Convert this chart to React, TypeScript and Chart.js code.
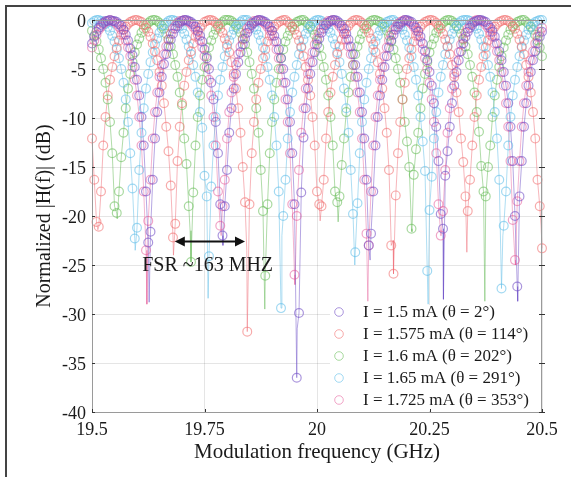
import React, { useEffect, useRef } from "react";
import { Chart, registerables } from "chart.js";

Chart.register(...registerables);

// Modulation frequency grid (GHz)
const FREQ_GHZ = [
  19.5, 19.505, 19.51, 19.515, 19.52, 19.525, 19.53, 19.535, 19.54, 19.545,
  19.55, 19.555, 19.56, 19.565, 19.57, 19.575, 19.58, 19.585, 19.59, 19.595,
  19.6, 19.605, 19.61, 19.615, 19.62, 19.625, 19.63, 19.635, 19.64, 19.645,
  19.65, 19.655, 19.66, 19.665, 19.67, 19.675, 19.68, 19.685, 19.69, 19.695,
  19.7, 19.705, 19.71, 19.715, 19.72, 19.725, 19.73, 19.735, 19.74, 19.745,
  19.75, 19.755, 19.76, 19.765, 19.77, 19.775, 19.78, 19.785, 19.79, 19.795,
  19.8, 19.805, 19.81, 19.815, 19.82, 19.825, 19.83, 19.835, 19.84, 19.845,
  19.85, 19.855, 19.86, 19.865, 19.87, 19.875, 19.88, 19.885, 19.89, 19.895,
  19.9, 19.905, 19.91, 19.915, 19.92, 19.925, 19.93, 19.935, 19.94, 19.945,
  19.95, 19.955, 19.96, 19.965, 19.97, 19.975, 19.98, 19.985, 19.99, 19.995,
  20, 20.005, 20.01, 20.015, 20.02, 20.025, 20.03, 20.035, 20.04, 20.045,
  20.05, 20.055, 20.06, 20.065, 20.07, 20.075, 20.08, 20.085, 20.09, 20.095,
  20.1, 20.105, 20.11, 20.115, 20.12, 20.125, 20.13, 20.135, 20.14, 20.145,
  20.15, 20.155, 20.16, 20.165, 20.17, 20.175, 20.18, 20.185, 20.19, 20.195,
  20.2, 20.205, 20.21, 20.215, 20.22, 20.225, 20.23, 20.235, 20.24, 20.245,
  20.25, 20.255, 20.26, 20.265, 20.27, 20.275, 20.28, 20.285, 20.29, 20.295,
  20.3, 20.305, 20.31, 20.315, 20.32, 20.325, 20.33, 20.335, 20.34, 20.345,
  20.35, 20.355, 20.36, 20.365, 20.37, 20.375, 20.38, 20.385, 20.39, 20.395,
  20.4, 20.405, 20.41, 20.415, 20.42, 20.425, 20.43, 20.435, 20.44, 20.445,
  20.45, 20.455, 20.46, 20.465, 20.47, 20.475, 20.48, 20.485, 20.49, 20.495,
  20.5,
];

// Normalized |H(f)| (dB), measured markers
const H_1P5_MA = [
  -2.4, -1.7, -1.2, -0.8, -0.5, -0.3, -0.1, -0.1, 0, -0.1,
  -0.1, -0.2, -0.4, -0.6, -1.0, -1.5, -2.1, -2.9, -3.6, -4.8,
  -6.1, -7.7, -9.9, -12.8, -17.5, -22.7, -21.6, -16.3, -12.1, -9.4,
  -7.4, -5.8, -4.5, -3.5, -2.7, -2.0, -1.4, -0.9, -0.6, -0.3,
  -0.1, 0, 0, -0.1, -0.2, -0.4, -0.7, -1.1, -1.6, -2.2,
  -3.0, -3.9, -5.0, -6.4, -8.1, -10.4, -13.6, -18.8, -22.0, -19.0,
  -15.3, -11.5, -9.0, -7.0, -5.5, -4.3, -3.3, -2.5, -1.9, -1.3,
  -0.9, -0.5, -0.3, -0.1, 0, 0, -0.1, -0.2, -0.4, -0.7,
  -1.1, -1.6, -2.2, -3.0, -3.9, -5.0, -6.4, -8.1, -10.4, -13.6,
  -18.8, -36.5, -29.9, -17.6, -12.0, -9.0, -7.0, -5.5, -4.3, -3.3,
  -2.5, -1.9, -1.3, -0.9, -0.5, -0.3, -0.1, 0, 0, -0.1,
  -0.3, -0.6, -0.9, -1.4, -2.0, -2.7, -3.5, -4.6, -5.8, -7.4,
  -9.4, -12.1, -16.3, -23.0, -21.8, -17.5, -12.8, -9.9, -7.7, -6.1,
  -4.8, -3.7, -2.8, -2.1, -1.5, -1.0, -0.7, -0.4, -0.2, 0,
  0, -0.1, -0.2, -0.5, -0.8, -1.2, -1.7, -2.4, -3.2, -4.1,
  -5.3, -6.7, -8.5, -10.9, -14.4, -19.8, -21.3, -15.9, -13.4, -10.9,
  -8.5, -6.7, -5.3, -4.1, -3.2, -2.4, -1.7, -1.2, -0.8, -0.5,
  -0.2, -0.1, 0, 0, -0.1, -0.2, -0.5, -0.8, -1.2, -1.7,
  -2.4, -3.2, -4.1, -5.3, -6.7, -8.5, -10.9, -14.4, -20.0, -27.2,
  -18.0, -14.4, -10.9, -8.5, -6.7, -5.3, -4.1, -3.2, -2.4, -1.7,
  -1.2,
];

const H_1P575_MA = [
  -12.1, -16.3, -20.6, -21.1, -17.5, -12.8, -9.9, -7.7, -6.1, -4.8,
  -3.7, -2.8, -2.1, -1.5, -1.0, -0.7, -0.4, -0.2, -0.1, 0,
  0, -0.1, -0.2, -0.5, -0.8, -1.2, -1.7, -2.4, -3.2, -4.1,
  -5.3, -6.7, -8.5, -10.9, -13.4, -16.9, -22.2, -20.8, -14.4, -10.9,
  -8.5, -6.7, -5.3, -4.1, -3.2, -2.4, -1.7, -1.2, -0.8, -0.5,
  -0.2, -0.1, 0, 0, -0.1, -0.3, -0.5, -0.9, -1.3, -1.9,
  -2.5, -3.3, -4.3, -5.5, -7.0, -9.0, -11.5, -15.0, -18.6, -31.8,
  -18.8, -13.6, -10.4, -8.1, -6.4, -5.0, -3.9, -3.0, -2.2, -1.6,
  -1.1, -0.7, -0.4, -0.2, -0.1, 0, 0, -0.2, -0.4, -0.7,
  -1.0, -1.5, -2.1, -2.8, -3.7, -4.8, -6.1, -7.7, -9.9, -12.8,
  -17.5, -18.8, -19.0, -16.3, -12.1, -9.4, -7.4, -5.8, -4.6, -3.5,
  -2.7, -2.0, -1.4, -0.9, -0.6, -0.3, -0.1, 0, 0, -0.1,
  -0.3, -0.5, -0.9, -1.3, -1.9, -2.5, -3.3, -4.3, -5.5, -7.0,
  -9.0, -11.5, -15.3, -23.0, -25.9, -17.9, -13.6, -10.4, -8.1, -6.4,
  -5.0, -3.9, -3.0, -2.2, -1.6, -1.1, -0.7, -0.4, -0.2, -0.1,
  0, 0, -0.1, -0.3, -0.6, -0.9, -1.4, -2.0, -2.7, -3.5,
  -4.6, -5.8, -7.4, -9.4, -12.1, -14.5, -18.0, -19.5, -16.3, -12.8,
  -9.9, -7.7, -6.1, -4.8, -3.7, -2.8, -2.1, -1.5, -1.0, -0.7,
  -0.4, -0.2, -0.1, 0, 0, -0.1, -0.3, -0.6, -0.9, -1.4,
  -2.0, -2.7, -3.5, -4.6, -5.8, -7.4, -9.4, -12.1, -16.3, -19.0,
  -23.3,
];

const H_1P6_MA = [
  -1.1, -1.6, -2.2, -3.0, -3.9, -5.0, -6.4, -8.1, -10.4, -13.6,
  -19.0, -19.7, -17.5, -14.0, -11.5, -9.0, -7.0, -5.5, -4.3, -3.3,
  -2.5, -1.9, -1.3, -0.9, -0.5, -0.3, -0.1, 0, 0, -0.1,
  -0.3, -0.6, -0.9, -1.4, -2.0, -2.7, -3.5, -4.6, -5.8, -7.4,
  -8.7, -12.1, -14.7, -19.0, -24.7, -17.6, -12.8, -9.9, -7.7, -6.1,
  -4.8, -3.7, -2.8, -2.1, -1.5, -1.0, -0.7, -0.4, -0.2, 0,
  0, 0, -0.1, -0.3, -0.5, -0.9, -1.3, -1.9, -2.5, -3.3,
  -4.3, -5.5, -7.0, -9.0, -11.5, -15.3, -19.5, -26.1, -18.8, -13.6,
  -10.4, -8.1, -6.4, -5.0, -3.9, -3.0, -2.2, -1.6, -1.1, -0.7,
  -0.4, -0.2, -0.1, 0, 0, -0.2, -0.4, -0.7, -1.0, -1.5,
  -2.1, -2.8, -3.7, -4.8, -6.1, -7.7, -9.9, -12.8, -17.5, -18.6,
  -18.0, -14.8, -12.1, -9.4, -7.4, -5.8, -4.6, -3.5, -2.7, -2.0,
  -1.4, -0.9, -0.6, -0.3, -0.1, 0, 0, -0.1, -0.2, -0.4,
  -0.7, -1.1, -1.6, -2.2, -3.0, -3.9, -5.0, -6.4, -8.1, -10.4,
  -12.4, -15.0, -21.3, -15.8, -13.2, -11.5, -9.0, -7.0, -5.5, -4.3,
  -3.3, -2.5, -1.9, -1.3, -0.9, -0.5, -0.3, -0.1, 0, 0,
  -0.1, -0.3, -0.6, -0.9, -1.4, -2.0, -2.7, -3.5, -4.6, -5.8,
  -7.4, -9.4, -11.4, -14.9, -17.5, -18.0, -15.0, -12.8, -9.9, -7.7,
  -6.1, -4.8, -3.7, -2.8, -2.1, -1.5, -1.0, -0.7, -0.4, -0.2,
  -0.1, 0, 0, -0.2, -0.4, -0.7, -1.0, -1.5, -2.1, -2.8,
  -3.7,
];

const H_1P65_MA = [
  -0.3, -0.1, 0, 0, -0.1, -0.2, -0.4, -0.7, -1.1, -1.6,
  -2.2, -3.0, -3.9, -5.0, -6.4, -8.1, -10.4, -13.6, -17.2, -22.3,
  -21.2, -15.3, -11.5, -9.0, -7.0, -5.5, -4.3, -3.3, -2.5, -1.9,
  -1.3, -0.9, -0.5, -0.3, -0.1, 0, 0, -0.1, -0.3, -0.6,
  -0.9, -1.4, -2.0, -2.7, -3.5, -4.6, -5.8, -7.4, -9.4, -11.0,
  -15.9, -18.0, -24.1, -17.0, -12.8, -9.9, -7.7, -6.1, -4.8, -3.7,
  -2.8, -2.1, -1.5, -1.0, -0.7, -0.4, -0.2, 0, 0, 0,
  -0.2, -0.4, -0.7, -1.0, -1.5, -2.1, -2.8, -3.7, -4.8, -6.1,
  -7.7, -9.9, -12.8, -17.5, -29.4, -20.0, -16.3, -12.1, -9.4, -7.4,
  -5.8, -4.6, -3.5, -2.7, -2.0, -1.4, -0.9, -0.6, -0.3, -0.1,
  0, 0, -0.1, -0.3, -0.5, -0.9, -1.3, -1.9, -2.5, -3.3,
  -4.3, -5.5, -7.0, -9.0, -11.5, -15.3, -19.8, -23.7, -18.7, -13.6,
  -10.4, -8.1, -6.4, -5.0, -3.9, -3.0, -2.2, -1.6, -1.1, -0.7,
  -0.4, -0.2, -0.1, 0, 0, -0.2, -0.4, -0.7, -1.0, -1.5,
  -2.1, -2.8, -3.7, -4.8, -6.1, -7.7, -9.9, -12.4, -15.4, -25.6,
  -19.4, -16.0, -12.1, -9.4, -7.4, -5.8, -4.6, -3.5, -2.7, -2.0,
  -1.4, -0.9, -0.6, -0.3, -0.1, 0, 0, 0, -0.1, -0.3,
  -0.6, -0.9, -1.4, -2.0, -2.7, -3.5, -4.6, -5.8, -7.4, -9.4,
  -12.1, -16.3, -27.4, -21.0, -17.5, -12.8, -9.9, -7.7, -6.1, -4.8,
  -3.7, -2.8, -2.1, -1.5, -1.0, -0.7, -0.4, -0.2, -0.1, 0,
  0,
];

const H_1P725_MA = [
  -2.8, -2.1, -1.5, -1.0, -0.7, -0.4, -0.2, -0.1, 0, -0.1,
  -0.2, -0.4, -0.7, -1.0, -1.5, -2.1, -2.8, -3.7, -4.8, -6.1,
  -7.7, -9.9, -12.8, -17.5, -23.5, -20.5, -16.3, -12.1, -9.4, -7.4,
  -5.8, -4.6, -3.5, -2.7, -2.0, -1.4, -0.9, -0.6, -0.3, -0.1,
  -0.1, 0, -0.1, -0.2, -0.4, -0.7, -1.0, -1.5, -2.1, -2.8,
  -3.7, -4.8, -6.1, -7.7, -9.9, -12.8, -17.5, -21.0, -19.0, -16.3,
  -12.1, -9.4, -7.4, -5.8, -4.6, -3.5, -2.7, -2.0, -1.4, -0.9,
  -0.6, -0.3, -0.1, -0.1, 0, -0.1, -0.2, -0.4, -0.7, -1.1,
  -1.6, -2.2, -3.0, -3.9, -5.0, -6.4, -8.1, -10.4, -13.6, -18.8,
  -26.0, -20.0, -15.3, -11.5, -9.0, -7.0, -5.5, -4.3, -3.3, -2.5,
  -1.9, -1.3, -0.9, -0.5, -0.3, -0.1, -0.1, 0, -0.1, -0.3,
  -0.6, -0.9, -1.4, -2.0, -2.7, -3.5, -4.6, -5.8, -7.4, -9.4,
  -12.1, -16.3, -21.8, -23.0, -17.5, -12.8, -9.9, -7.7, -6.1, -4.8,
  -3.7, -2.8, -2.1, -1.5, -1.0, -0.7, -0.4, -0.2, -0.1, 0,
  -0.1, -0.2, -0.4, -0.7, -1.1, -1.6, -2.2, -3.0, -3.9, -5.0,
  -6.4, -8.1, -10.4, -13.6, -18.8, -22.0, -19.5, -15.3, -11.5, -9.0,
  -7.0, -5.5, -4.3, -3.3, -2.5, -1.9, -1.3, -0.9, -0.5, -0.3,
  -0.1, 0, 0, -0.1, -0.2, -0.5, -0.8, -1.2, -1.7, -2.4,
  -3.2, -4.1, -5.3, -6.7, -8.5, -10.9, -14.4, -20.4, -24.5, -18.5,
  -14.4, -10.9, -8.5, -6.7, -5.3, -4.1, -3.2, -2.4, -1.7, -1.2,
  -0.8,
];

// Deepest points of the thin traces at each notch: [GHz, dB]
const NOTCH_1P5_MA = [[19.627, -28.8], [19.791, -23.0], [19.956, -31.5], [20.118, -24.5], [20.281, -28.5], [20.446, -28.7]];
const NOTCH_1P575_MA = [[19.513, -21.4], [19.681, -24.0], [19.844, -23.5], [20.007, -20.5], [20.169, -22.5], [20.333, -23.7], [20.498, -21.0]];
const NOTCH_1P6_MA = [[19.556, -20.3], [19.718, -21.5], [19.884, -29.5], [20.047, -20.6], [20.211, -21.6], [20.373, -28.7]];
const NOTCH_1P65_MA = [[19.596, -23.5], [19.758, -28.4], [19.922, -22.0], [20.084, -25.0], [20.247, -29.0], [20.413, -22.0]];
const NOTCH_1P725_MA = [[19.622, -29.0], [19.787, -22.0], [19.951, -27.0], [20.113, -28.7], [20.276, -22.0], [20.441, -25.0]];

const LEGEND_LABELS = [
  "I = 1.5 mA (\u03b8 = 2\u00b0)",
  "I = 1.575 mA (\u03b8 = 114\u00b0)",
  "I = 1.6 mA (\u03b8 = 202\u00b0)",
  "I = 1.65 mA (\u03b8 = 291\u00b0)",
  "I = 1.725 mA (\u03b8 = 353\u00b0)",
];

const X_TICKS = [19.5, 19.75, 20, 20.25, 20.5];
const Y_TICKS = [-40, -35, -30, -25, -20, -15, -10, -5, 0];

const FSR_FROM_GHZ = 19.684;
const FSR_TO_GHZ = 19.84;
const FSR_LEVEL_DB = -22.6;
const FSR_TEXT = "FSR ~163 MHZ";
const FSR_TEXT_GHZ = 19.757;
const FSR_TEXT_DB = -25.1;

// Styles
const SERIF = '"Liberation Serif", "Times New Roman", serif';
const MARKER_COLORS = [
  "rgba(120, 85, 200, 0.62)",
  "rgba(242, 110, 110, 0.58)",
  "rgba(105, 190, 90, 0.58)",
  "rgba(95, 190, 232, 0.58)",
  "rgba(228, 85, 150, 0.52)",
];
const LINE_COLORS = [
  "rgba(110, 80, 200, 0.5)",
  "rgba(240, 110, 120, 0.5)",
  "rgba(100, 185, 85, 0.5)",
  "rgba(95, 190, 232, 0.5)",
  "rgba(228, 90, 150, 0.45)",
];

const SERIES_VALUES = [H_1P5_MA, H_1P575_MA, H_1P6_MA, H_1P65_MA, H_1P725_MA];
const SERIES_NOTCHES = [NOTCH_1P5_MA, NOTCH_1P575_MA, NOTCH_1P6_MA, NOTCH_1P65_MA, NOTCH_1P725_MA];
const DRAW_ORDER = [0, 2, 4, 3, 1];

const decorPlugin = {
  id: "decor",
  afterDatasetsDraw(chart: any) {
    const { ctx, scales } = chart;
    const xs = scales.x;
    const ys = scales.y;
    const x1 = xs.getPixelForValue(FSR_FROM_GHZ);
    const x2 = xs.getPixelForValue(FSR_TO_GHZ);
    const y = ys.getPixelForValue(FSR_LEVEL_DB);
    ctx.save();
    ctx.strokeStyle = "#111";
    ctx.fillStyle = "#111";
    ctx.lineWidth = 2;
    ctx.beginPath();
    ctx.moveTo(x1 + 6, y);
    ctx.lineTo(x2 - 6, y);
    ctx.stroke();
    ctx.beginPath();
    ctx.moveTo(x1, y);
    ctx.lineTo(x1 + 10, y - 5);
    ctx.lineTo(x1 + 10, y + 5);
    ctx.closePath();
    ctx.fill();
    ctx.beginPath();
    ctx.moveTo(x2, y);
    ctx.lineTo(x2 - 10, y - 5);
    ctx.lineTo(x2 - 10, y + 5);
    ctx.closePath();
    ctx.fill();
    ctx.font = `20px ${SERIF}`;
    ctx.textAlign = "center";
    ctx.textBaseline = "middle";
    ctx.fillStyle = "#1a1a1a";
    ctx.fillText(FSR_TEXT, xs.getPixelForValue(FSR_TEXT_GHZ), ys.getPixelForValue(FSR_TEXT_DB));
    ctx.restore();
  },
  afterDraw(chart: any) {
    const { ctx, chartArea: a, scales } = chart;
    ctx.save();
    // legend box
    const lx = a.right - 212;
    const ly = a.bottom - 107;
    ctx.fillStyle = "#ffffff";
    ctx.fillRect(lx, ly, a.right - lx - 1, a.bottom - ly - 1);
    ctx.font = `17px ${SERIF}`;
    ctx.textAlign = "left";
    ctx.textBaseline = "middle";
    LEGEND_LABELS.forEach((t, i) => {
      const cy = ly + 7 + i * 22;
      ctx.beginPath();
      ctx.arc(lx + 9, cy, 4.3, 0, Math.PI * 2);
      ctx.strokeStyle = MARKER_COLORS[i];
      ctx.lineWidth = 1;
      ctx.stroke();
      ctx.fillStyle = "#1a1a1a";
      ctx.fillText(t, lx + 33, cy + 1);
    });
    // plot box
    ctx.strokeStyle = "#9a9a9a";
    ctx.lineWidth = 1;
    ctx.strokeRect(a.left + 0.5, a.top + 0.5, a.right - a.left - 1, a.bottom - a.top);
    // tick marks
    ctx.strokeStyle = "#333";
    ctx.beginPath();
    scales.x.ticks.forEach((t: any) => {
      const px = Math.round(scales.x.getPixelForValue(t.value)) + 0.5;
      ctx.moveTo(px, a.bottom);
      ctx.lineTo(px, a.bottom - 3);
      ctx.moveTo(px, a.top);
      ctx.lineTo(px, a.top + 3);
    });
    scales.y.ticks.forEach((t: any) => {
      const py = Math.round(scales.y.getPixelForValue(t.value)) + 0.5;
      ctx.moveTo(a.left, py);
      ctx.lineTo(a.left + 3, py);
      ctx.moveTo(a.right - 3, py);
      ctx.lineTo(a.right + 3, py);
    });
    ctx.stroke();
    // outer figure frame
    ctx.strokeStyle = "#444";
    ctx.lineWidth = 2;
    ctx.beginPath();
    ctx.moveTo(6, chart.height);
    ctx.lineTo(6, 6);
    ctx.lineTo(chart.width, 6);
    ctx.stroke();
    ctx.restore();
  },
};

export default function App() {
  const ref = useRef<HTMLCanvasElement>(null);

  useEffect(() => {
    if (!ref.current) return;
    const datasets: any[] = [];
    SERIES_VALUES.forEach((vals, i) => {
      datasets.push({
        label: LEGEND_LABELS[i],
        data: FREQ_GHZ.map((x, j) => ({ x, y: vals[j] })),
        showLine: false,
        pointStyle: "circle",
        pointRadius: 4.4,
        pointBorderWidth: 1.2,
        pointBackgroundColor: "rgba(0,0,0,0)",
        pointBorderColor: MARKER_COLORS[i],
        borderColor: MARKER_COLORS[i],
        order: DRAW_ORDER[i],
        clip: false,
      });
    });
    SERIES_VALUES.forEach((vals, i) => {
      const pts = [
        ...FREQ_GHZ.map((x, j) => ({ x, y: vals[j] })),
        ...SERIES_NOTCHES[i].map(([x, y]) => ({ x, y })),
      ].sort((p, q) => p.x - q.x);
      datasets.push({
        label: LEGEND_LABELS[i] + " trace",
        data: pts,
        showLine: true,
        pointRadius: 0,
        borderWidth: 1,
        borderColor: LINE_COLORS[i],
        tension: 0,
        order: 10 + i,
        clip: false,
      });
    });

    const chart = new Chart(ref.current, {
      type: "scatter",
      data: { datasets },
      options: {
        animation: false,
        responsive: false,
        devicePixelRatio: 1,
        events: [],
        layout: { padding: { top: 20, right: 29, left: 0, bottom: 0 } },
        plugins: { legend: { display: false }, tooltip: { enabled: false } },
        scales: {
          x: {
            type: "linear",
            min: 19.5,
            max: 20.5,
            afterBuildTicks: (s: any) => {
              s.ticks = X_TICKS.map((v) => ({ value: v }));
            },
            afterFit: (s: any) => {
              s.height = 65;
            },
            grid: { color: "rgba(0,0,0,0.1)", drawTicks: false },
            border: { color: "#9a9a9a" },
            ticks: {
              padding: 7,
              color: "#1a1a1a",
              font: { family: SERIF, size: 18 },
              maxRotation: 0,
              callback: (v: any) => String(v),
            },
            title: {
              display: true,
              text: "Modulation frequency (GHz)",
              color: "#1a1a1a",
              font: { family: SERIF, size: 21 },
              padding: { top: 0, bottom: 12 },
            },
          },
          y: {
            type: "linear",
            min: -40,
            max: 0,
            afterBuildTicks: (s: any) => {
              s.ticks = Y_TICKS.map((v) => ({ value: v }));
            },
            afterFit: (s: any) => {
              s.width = 92;
            },
            grid: { color: "rgba(0,0,0,0.1)", drawTicks: false },
            border: { color: "#9a9a9a" },
            ticks: {
              padding: 6,
              labelOffset: 2,
              color: "#1a1a1a",
              font: { family: SERIF, size: 18 },
              callback: (v: any) => String(v),
            },
            title: {
              display: true,
              text: "Normalized |H(f)| (dB)",
              color: "#1a1a1a",
              font: { family: SERIF, size: 20 },
              padding: { top: 33, bottom: 0 },
            },
          },
        },
      },
      plugins: [decorPlugin],
    });
    return () => chart.destroy();
  }, []);

  return (
    <div style={{ position: "absolute", left: 0, top: 0, width: 571, height: 477, background: "#fff" }}>
      <canvas ref={ref} width={571} height={477} style={{ display: "block", width: 571, height: 477 }} />
    </div>
  );
}
